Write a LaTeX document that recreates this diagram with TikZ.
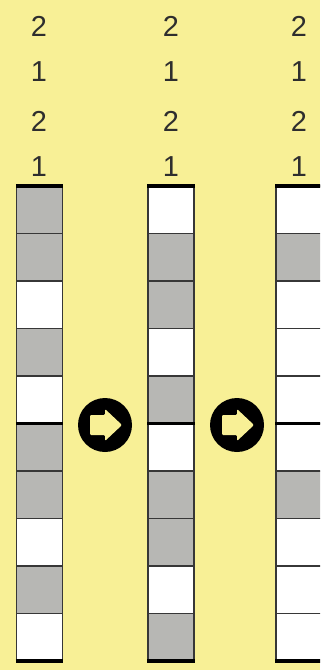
\documentclass[tikz,border=0pt]{standalone}
\usepackage{fontspec}
\setmainfont{Liberation Sans}
\definecolor{bg}{RGB}{248,240,150}
\definecolor{cellgray}{RGB}{183,183,180}
\definecolor{edge}{RGB}{55,55,55}
\newcommand\stripcol[2]{%
  \foreach \s [count=\i] in {#2} {
    \pgfmathsetmacro\ya{186+(\i-1)*47.5}
    \ifnum\s=1
      \fill[cellgray] (#1,\ya) rectangle ++(46,47.5);
    \else
      \fill[white] (#1,\ya) rectangle ++(46,47.5);
    \fi
    \draw[edge, line width=1.3] (#1,\ya) -- ++(46,0);
  }
  \draw[edge, line width=1.4] (#1,186) -- (#1,661);
  \draw[edge, line width=1.4] ($(#1,186)+(46,0)$) -- ($(#1,661)+(46,0)$);
  \draw[black, line width=4] ($(#1,186)+(-0.7,0)$) -- ++(47.4,0);
  \draw[black, line width=4] ($(#1,423.5)+(-0.7,0)$) -- ++(47.4,0);
  \draw[black, line width=4] ($(#1,661)+(-0.7,0)$) -- ++(47.4,0);
}
\usetikzlibrary{calc}
\begin{document}
\begin{tikzpicture}[x=1bp,y=-1bp,
  num/.style={font=\fontsize{29}{29}\selectfont, text=black!82, inner sep=0},
  nextbtn/.style={circle, fill=black, minimum size=54bp, inner sep=0}]
\useasboundingbox (0,0) rectangle (320,670);
\fill[bg] (0,0) rectangle (320,670);
\begin{scope}
  \clip (0,0) rectangle (320,670);
  \stripcol{16.5}{1,1,0,1,0,1,1,0,1,0}
  \stripcol{148}{0,1,1,0,1,0,1,1,0,1}
  \stripcol{276}{0,1,0,0,0,0,1,0,0,0}
  \foreach \x [count=\c] in {39,171,299} {
    \foreach \v/\y [count=\r] in {2/26,1/72,2/121,1/167} {
      \node[num] (n\c\r) at (\x,\y) {\v};
    }
  }
  \foreach \x [count=\k] in {105,237} {
    \node[nextbtn] (b\k) at (\x,425) {};
    \fill[bg, rounded corners=1.2bp]
      ($(b\k)+(-15,-10)$) -- ($(b\k)+(0,-10)$) -- ($(b\k)+(0,-16)$) --
      ($(b\k)+(17,0)$) -- ($(b\k)+(0,16)$) -- ($(b\k)+(0,10)$) --
      ($(b\k)+(-15,10)$) -- cycle;
  }
\end{scope}
\end{tikzpicture}
\end{document}
